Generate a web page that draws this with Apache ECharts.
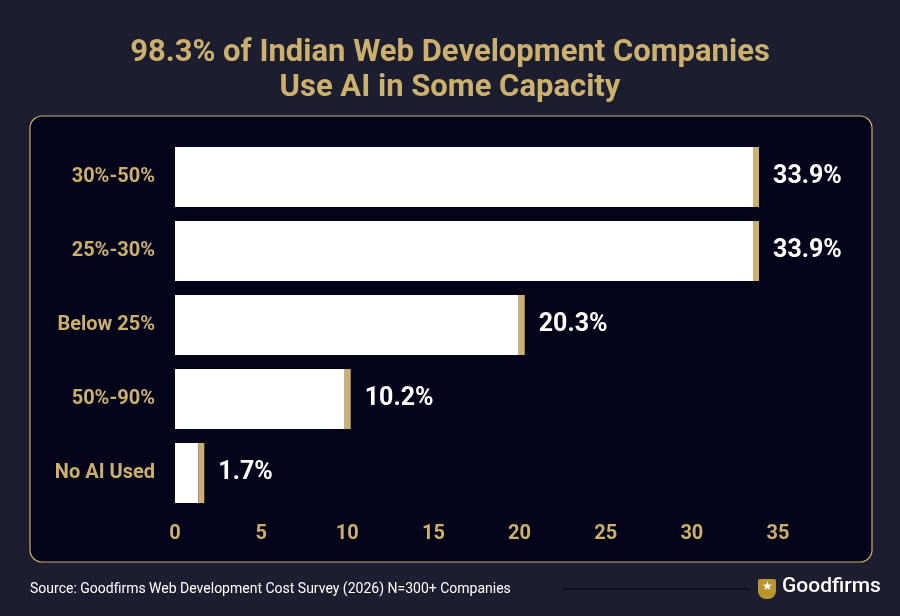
<!DOCTYPE html><html><head><meta charset="utf-8">
<script src="https://cdn.jsdelivr.net/npm/echarts@6/dist/echarts.min.js"></script>
<style>body{margin:0;background:#1c1d2e}#c{width:900px;height:616px}</style></head><body><div id="c"></div>
<script>
const categories=['30%-50%','25%-30%','Below 25%','50%-90%','No AI Used'];
const values=[33.9,33.9,20.3,10.2,1.7];
const capSize=0.35;
const gold='#cbb06f';
const ch=echarts.init(document.getElementById('c'));
ch.setOption({
 backgroundColor:'#1c1d2e',
 title:{text:'98.3% of Indian Web Development Companies\nUse AI in Some Capacity',left:'center',top:31,
  textStyle:{color:gold,fontFamily:'Roboto',fontWeight:'bold',fontSize:31,lineHeight:35}},
 graphic:[
  {type:'rect',shape:{x:30,y:116,width:842,height:446,r:12},style:{fill:'#03031a',stroke:gold,lineWidth:1.2},z:-1},
  {type:'text',left:30,top:582,style:{text:'Source: Goodfirms Web Development Cost Survey (2026) N=300+ Companies',fill:'#ffffff',font:'14px Roboto'}},
  {type:'line',shape:{x1:563,y1:589,x2:750,y2:589},style:{stroke:'#0d0e1c',lineWidth:2}},
  {type:'rect',shape:{x:758,y:579,width:18,height:20,r:[2,2,8,8]},style:{fill:'#b8962e'}},
  {type:'text',left:762,top:581,style:{text:'★',fill:'#fff',font:'12px DejaVu Sans'}},
  {type:'text',left:782,top:576,style:{text:'Goodfirms',fill:'#fff',font:'500 21px Roboto'}}
 ],
 grid:{left:175,top:140,width:603,height:370,containLabel:false},
 xAxis:{type:'value',min:0,max:35,interval:5,splitLine:{show:false},axisLine:{show:false},axisTick:{show:false},
  axisLabel:{color:gold,fontFamily:'Roboto',fontWeight:'bold',fontSize:20,margin:14}},
 yAxis:{type:'category',inverse:true,data:categories,axisLine:{show:false},axisTick:{show:false},
  axisLabel:{color:gold,fontFamily:'Roboto',fontWeight:'bold',fontSize:20,margin:20}},
 series:[
  {type:'bar',stack:'a',data:values.map(v=>v-capSize),barWidth:60,itemStyle:{color:'#fff'},animation:false},
  {type:'bar',stack:'a',data:values.map(()=>capSize),barWidth:60,itemStyle:{color:gold},animation:false,
   label:{show:true,position:'right',distance:14,color:'#fff',fontFamily:'Roboto',fontWeight:'bold',fontSize:25,
    formatter:p=>values[p.dataIndex].toFixed(1)+'%'}}
 ]
});
</script></body></html>
